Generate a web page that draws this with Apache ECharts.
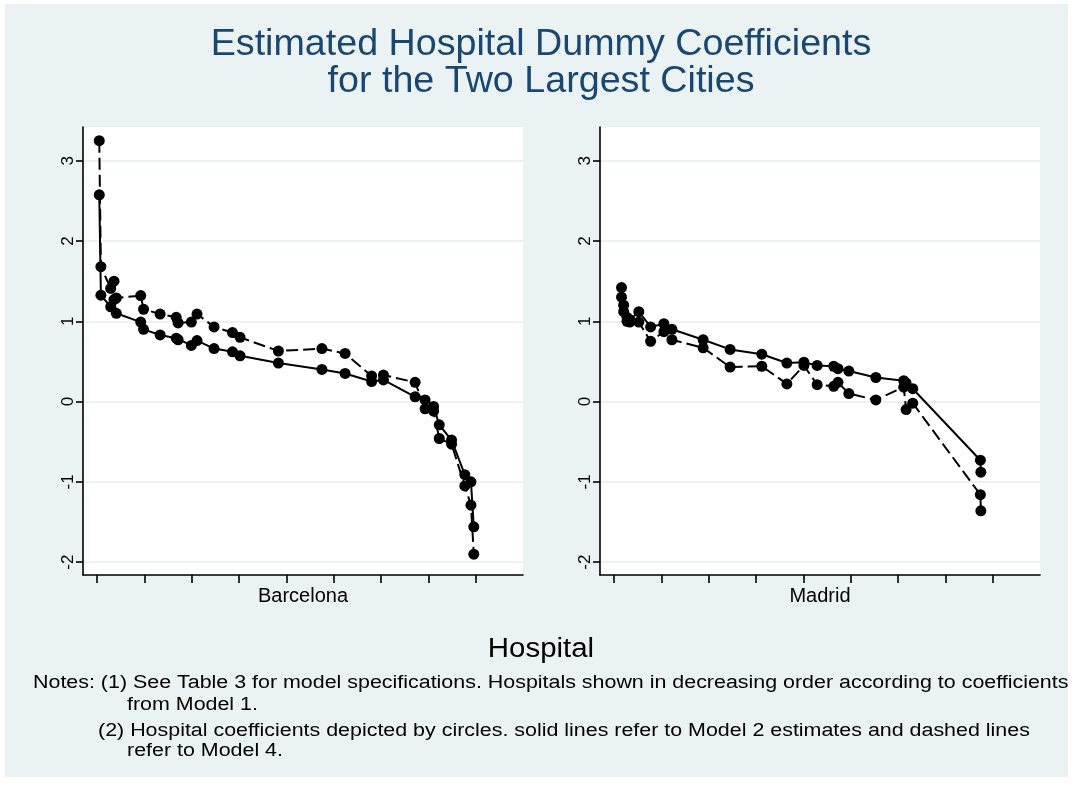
<!DOCTYPE html>
<html>
<head>
<meta charset="utf-8">
<script src="https://cdn.jsdelivr.net/npm/echarts@6/dist/echarts.min.js"></script>
<style>
  html, body { margin: 0; padding: 0; background: #ffffff; }
  #chart { width: 1073px; height: 785px; }
</style>
</head>
<body>
<div id="chart"></div>
<script>
// Hospital position on the horizontal axis and estimated dummy coefficients
const bcnX      = [0.44, 0.78, 2.85, 3.55, 4.04, 9.2, 9.8, 13.3, 16.7, 17.1, 19.9, 21.1, 24.7, 28.6, 30.2, 38.3, 47.5, 52.4, 58.0, 60.5, 67.2, 69.3, 71.1, 72.3, 74.9, 77.7, 79.0, 79.6];
const bcnModel2 = [2.575, 1.325, 1.18, 1.27, 1.10, 0.99, 0.90, 0.83, 0.79, 0.77, 0.70, 0.76, 0.66, 0.62, 0.57, 0.48, 0.40, 0.35, 0.25, 0.27, 0.06, 0.02, -0.06, -0.29, -0.48, -0.91, -1.00, -1.56];
const bcnModel4 = [3.25, 1.68, 1.41, 1.50, 1.29, 1.32, 1.15, 1.09, 1.05, 0.98, 0.99, 1.09, 0.93, 0.86, 0.80, 0.63, 0.66, 0.60, 0.32, 0.33, 0.24, -0.09, -0.12, -0.46, -0.53, -1.05, -1.29, -1.90];

const madX      = [1.55, 2.0, 2.7, 3.3, 5.2, 7.7, 10.5, 12.2, 18.8, 24.5, 31.2, 36.5, 40.1, 42.9, 46.4, 47.3, 49.6, 55.3, 61.2, 61.7, 63.1, 77.4, 77.5];
const madModel2 = [1.42, 1.20, 1.05, 1.02, 1.12, 0.93, 0.97, 0.90, 0.77, 0.65, 0.59, 0.48, 0.49, 0.45, 0.44, 0.41, 0.38, 0.30, 0.26, 0.23, 0.16, -0.73, -0.88];
const madModel4 = [1.30, 1.12, 1.00, 0.99, 0.99, 0.75, 0.87, 0.77, 0.67, 0.43, 0.44, 0.22, 0.45, 0.21, 0.19, 0.24, 0.10, 0.02, 0.18, -0.10, -0.02, -1.16, -1.36];

const yTicks = [-2, -1, 0, 1, 2, 3];
const yTickLabels = ['-2', '-1', '0', '1', '2', '3'];
const xTicks = [0, 10, 20, 30, 40, 50, 60, 70, 80];
const panelNames = ['Barcelona', 'Madrid'];

const titleLines = ['Estimated Hospital Dummy Coefficients', 'for the Two Largest Cities'];
const xTitle = 'Hospital';
const noteLines = [
  'Notes: (1) See Table 3 for model specifications. Hospitals shown in decreasing order according to coefficients',
  'from Model 1.',
  '(2) Hospital coefficients depicted by circles. solid lines refer to Model 2 estimates and dashed lines',
  'refer to Model 4.'
];

const BG = '#EAF2F3';
const TITLE_COLOR = '#1A476F';
const FONT = '"Liberation Sans", Arial, sans-serif';

const pairs = (xs, ys) => xs.map((x, i) => [x, ys[i]]);

const panels = [
  { x: bcnX, m2: bcnModel2, m4: bcnModel4 },
  { x: madX, m2: madModel2, m4: madModel4 }
];

const grids = [
  { left: 83, top: 127, width: 440, height: 448 },
  { left: 600, top: 127, width: 440, height: 448 }
];

const xAxes = panelNames.map((name, i) => ({
  type: 'value', gridIndex: i, min: -3, max: 90,
  name: name, nameLocation: 'middle', nameGap: 11,
  nameTextStyle: { fontFamily: FONT, fontSize: 20, color: '#000', verticalAlign: 'top' },
  axisLine: { show: true, onZero: false, lineStyle: { color: '#000', width: 1.6 } },
  axisTick: { show: true, customValues: xTicks, length: 8, lineStyle: { color: '#000', width: 1.6 } },
  axisLabel: { show: false },
  splitLine: { show: false }
}));

const yAxes = panelNames.map((name, i) => ({
  type: 'value', gridIndex: i, min: -2.16, max: 3.42,
  axisLine: { show: true, onZero: false, lineStyle: { color: '#000', width: 1.6 } },
  axisTick: { show: true, customValues: yTicks, length: 7, lineStyle: { color: '#000', width: 1.6 } },
  axisLabel: {
    show: true, customValues: yTicks, rotate: 90, margin: 6,
    fontFamily: FONT, fontSize: 17, color: '#000',
    formatter: v => yTickLabels[yTicks.indexOf(Math.round(v))]
  },
  splitLine: { show: true, lineStyle: { color: BG, width: 2 } }
}));

const series = [];
panels.forEach((p, i) => {
  series.push({
    name: 'Model 2', type: 'line', xAxisIndex: i, yAxisIndex: i,
    data: pairs(p.x, p.m2),
    symbol: 'circle', symbolSize: 11,
    itemStyle: { color: '#000' },
    lineStyle: { color: '#000', width: 2, type: 'solid' },
    silent: true, animation: false, z: 3
  });
  series.push({
    name: 'Model 4', type: 'line', xAxisIndex: i, yAxisIndex: i,
    data: pairs(p.x, p.m4),
    symbol: 'circle', symbolSize: 11,
    itemStyle: { color: '#000' },
    lineStyle: { color: '#000', width: 2, type: [12, 5] },
    silent: true, animation: false, z: 3
  });
});

function label(text, x, y, size, color, align, sx) {
  return {
    type: 'text', x: x, y: y, scaleX: sx, silent: true,
    style: { text: text, fill: color, font: size + 'px ' + FONT, textAlign: align, textVerticalAlign: 'middle' }
  };
}

const chart = echarts.init(document.getElementById('chart'), null, { renderer: 'canvas' });
chart.setOption({
  animation: false,
  backgroundColor: '#ffffff',
  grid: grids.map(g => Object.assign({ backgroundColor: '#ffffff', show: true, borderWidth: 0 }, g)),
  xAxis: xAxes,
  yAxis: yAxes,
  series: series,
  graphic: [
    { type: 'rect', z: -10, silent: true, shape: { x: 5, y: 4, width: 1063, height: 773 }, style: { fill: BG } },
    label(titleLines[0], 541, 45, 36, TITLE_COLOR, 'center', 1.046),
    label(titleLines[1], 541, 82, 36, TITLE_COLOR, 'center', 1.046),
    label(xTitle, 541, 650, 27, '#000', 'center', 1.09),
    label(noteLines[0], 33, 683, 18, '#000', 'left', 1.19),
    label(noteLines[1], 127, 705, 18, '#000', 'left', 1.19),
    label(noteLines[2], 98, 731, 18, '#000', 'left', 1.19),
    label(noteLines[3], 127, 751, 18, '#000', 'left', 1.19)
  ]
});
</script>
</body>
</html>
